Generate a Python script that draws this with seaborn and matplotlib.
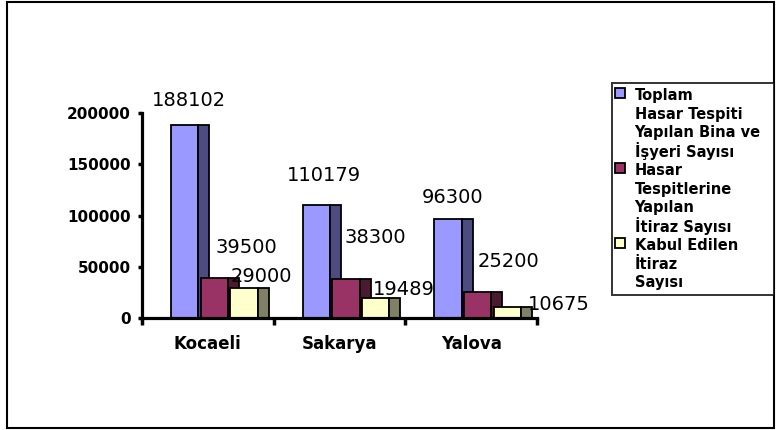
import matplotlib
matplotlib.use("Agg")
import matplotlib.pyplot as plt
from matplotlib.lines import Line2D
from matplotlib.patches import Rectangle
import seaborn as sns
import pandas as pd

# ---- data ----
iller = ["Kocaeli", "Sakarya", "Yalova"]
seriler = [
    "Toplam\nHasar Tespiti\nYapılan Bina ve\nİşyeri Sayısı",
    "Hasar\nTespitlerine\nYapılan\nİtiraz Sayısı",
    "Kabul Edilen\nİtiraz\nSayısı",
]
toplam_hasar = [188102, 110179, 96300]
itiraz = [39500, 38300, 25200]
kabul = [29000, 19489, 10675]
y_ticks = [0, 50000, 100000, 150000, 200000]
y_tick_labels = ["0", "50000", "100000", "150000", "200000"]

values = [toplam_hasar, itiraz, kabul]
df = pd.DataFrame({
    "İl": iller * 3,
    "Seri": [s for s in seriler for _ in iller],
    "Değer": toplam_hasar + itiraz + kabul,
})

# ---- styles ----
front_colors = ["#9999FF", "#993366", "#FFFFCC"]
side_colors = ["#4C4C80", "#4C1933", "#808066"]
# label offsets in pixels (relative to category centre / bar top)
label_dx = [[-18.5, -16, -18.5], [39, 35.5, 37], [54, 64.5, 87.5]]
label_dy = [[19, 24, 16], [25, 36, 25], [6, 3, -3]]

sns.set_style("white")
plt.rcParams["font.family"] = ["DejaVu Sans"]
plt.rcParams["text.color"] = "black"
plt.rcParams["axes.labelcolor"] = "black"
plt.rcParams["xtick.color"] = "black"
plt.rcParams["ytick.color"] = "black"

W, H = 776, 430
fig = plt.figure(figsize=(W / 100, H / 100), dpi=100)
ax = fig.add_axes([142 / W, 1 - 318 / H, (537 - 142) / W, (318 - 113) / H])

sns.barplot(data=df, x="İl", y="Değer", hue="Seri", palette=front_colors,
            width=0.675, saturation=1, edgecolor="black", linewidth=1.3,
            legend=False, ax=ax, errorbar=None)

unit = 131.0  # px per category
F = 27 / unit
S = 11 / unit
shift = 0.059
front_containers = list(ax.containers)
for i, cont in enumerate(front_containers):
    for j, bar in enumerate(cont):
        bar.set_x(bar.get_x() + shift)
        bar.set_width(F)
        bar.set_zorder(2 + i)
        ax.bar(bar.get_x() + F, bar.get_height(), width=S, align="edge",
               color=side_colors[i], edgecolor="black", linewidth=1.3,
               zorder=2 + i)
        ax.annotate(f"{values[i][j]}", xy=(j, values[i][j]),
                    xytext=(label_dx[i][j], label_dy[i][j]),
                    textcoords="offset pixels", ha="center", va="baseline",
                    fontsize=14, color="black", zorder=20,
                    annotation_clip=False)

ax.set_xlim(-0.5, 2.5)
ax.set_ylim(0, 200000)
ax.set_xlabel("")
ax.set_ylabel("")
ax.set_yticks(y_ticks)
ax.set_yticklabels(y_tick_labels, fontsize=11, fontweight="bold")
ax.set_xticks(range(len(iller)))
ax.set_xticklabels(iller, fontsize=12, fontweight="bold")
ax.set_xticks([-0.5, 0.5, 1.5, 2.5], minor=True)
ax.tick_params(axis="x", which="major", length=0, pad=12)
ax.tick_params(axis="x", which="minor", direction="out", length=5, width=2.5,
               color="black", bottom=True)
ax.tick_params(axis="y", which="major", direction="out", length=3, width=2.5,
               color="black", pad=5, left=True)

for side in ["top", "right"]:
    ax.spines[side].set_visible(False)
for side in ["left", "bottom"]:
    ax.spines[side].set_linewidth(2.3)
    ax.spines[side].set_color("black")
    ax.spines[side].set_zorder(15)
ax.set_facecolor("white")

# legend: one row per text line, marker only on first line of each series
handles, labels = [], []
for s, c in zip(seriler, front_colors):
    lines = s.split("\n")
    for k, ln in enumerate(lines):
        if k == 0:
            handles.append(Line2D([], [], linestyle="none", marker="s",
                                  markersize=6.5, markerfacecolor=c,
                                  markeredgecolor="black",
                                  markeredgewidth=1.3))
        else:
            handles.append(Line2D([], [], linestyle="none", marker=None))
        labels.append(ln)
leg = fig.legend(handles, labels, loc="upper left",
                 bbox_to_anchor=(612 / W, 1 - 83 / H, 162 / W, 0),
                 bbox_transform=fig.transFigure, mode="expand",
                 frameon=True, fancybox=False,
                 prop={"size": 10.5, "weight": "bold"}, handlelength=0.7,
                 handleheight=1.58, handletextpad=0.65, labelspacing=0.0,
                 borderpad=0.2, borderaxespad=0)
leg.get_frame().set_edgecolor("black")
leg.get_frame().set_linewidth(1.4)

# outer chart frame
fig.patches.append(Rectangle((7 / W, 2 / H), (774 - 7) / W, (428 - 2) / H,
                             transform=fig.transFigure, fill=False,
                             edgecolor="black", linewidth=1.5))

fig.savefig("out.png", dpi=100)
